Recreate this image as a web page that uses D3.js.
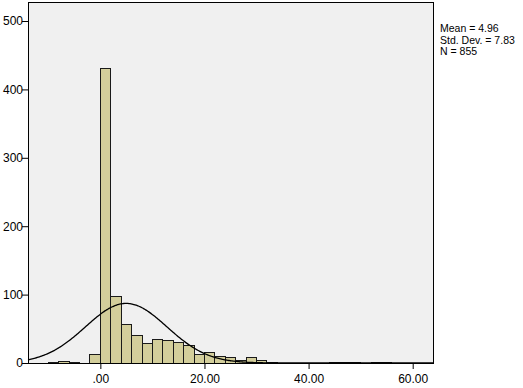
<!DOCTYPE html>
<html><head><meta charset="utf-8">
<script src="https://cdn.jsdelivr.net/npm/d3@7"></script>
<style>html,body{margin:0;padding:0;background:#fff;} svg{display:block;font-family:"Liberation Sans",Arial,sans-serif;}</style>
</head><body>
<svg id="c" width="523" height="388"></svg>
<script>
// Histogram bins (lower edges, width 2) and counts
const binStarts = [-10,-8,-6,-4,-2,0,2,4,6,8,10,12,14,16,18,20,22,24,26,28,30,32,34,36,38,40,42,44,46,48,50,52,54];
const counts    = [1,2,1,0,13,431,97,57,40,29,35,33,30,25,12,16,9,8,4,8,3,1,0,0,0,0,0,1,1,1,0,1,1];
const binWidth = 2;
const xTicks = [0,20,40,60];
const yTicks = [0,100,200,300,400,500];
const statsLabels = ["Mean = 4.96","Std. Dev. = 7.83","N = 855"];
const mean = 4.96, sd = 7.83, N = 855;

const svg = d3.select("#c");
const L = 28, R = 433, T = 2, B = 363;
const x = d3.scaleLinear().domain([-13.9, 63.9]).range([L, R]);
const y = d3.scaleLinear().domain([0, 527.8]).range([B, T]);

svg.append("rect").attr("x",L).attr("y",T).attr("width",R-L).attr("height",B-T).attr("fill","#f0f0f0");

const bins = binStarts.map((s,i)=>({s, c:counts[i]})).filter(d=>d.c>0);
svg.append("g").selectAll("rect").data(bins).join("rect")
  .attr("x", d=>x(d.s)).attr("width", d=>x(d.s+binWidth)-x(d.s))
  .attr("y", d=>y(d.c)).attr("height", d=>y(0)-y(d.c))
  .attr("fill","#d3ce9b").attr("stroke","#1a1a1a").attr("stroke-width",1)
  .attr("shape-rendering","crispEdges");

// normal curve from the printed statistics
const pts = d3.range(-13.9, 63.95, 0.2).map(v=>[v, N*binWidth/(sd*Math.sqrt(2*Math.PI))*Math.exp(-0.5*((v-mean)/sd)**2)]);
svg.append("path").datum(pts)
  .attr("d", d3.line().x(d=>x(d[0])).y(d=>y(d[1])).curve(d3.curveBasis))
  .attr("fill","none").attr("stroke","#000").attr("stroke-width",1.3);

svg.append("rect").attr("x",L).attr("y",T).attr("width",R-L).attr("height",B-T)
  .attr("fill","none").attr("stroke","#000").attr("stroke-width",1).attr("shape-rendering","crispEdges");

const fmt = v => v===0 ? ".00" : d3.format(".2f")(v);
const xa = svg.append("g").attr("transform",`translate(0,${B})`)
  .call(d3.axisBottom(x).tickValues(xTicks).tickFormat(fmt).tickSize(6).tickSizeOuter(0));
xa.select(".domain").remove();
xa.selectAll("text").attr("font-size",12).attr("fill","#000").attr("font-family","Liberation Sans, Arial, sans-serif").attr("dy","0.9em");
xa.selectAll("line").attr("stroke","#000");

const ya = svg.append("g").attr("transform",`translate(${L},0)`)
  .call(d3.axisLeft(y).tickValues(yTicks).tickSize(6).tickSizeOuter(0));
ya.select(".domain").remove();
ya.selectAll("text").attr("font-size",12).attr("fill","#000").attr("font-family","Liberation Sans, Arial, sans-serif").attr("x",-5);
ya.selectAll("line").attr("stroke","#000");

svg.append("g").selectAll("text").data(statsLabels).join("text")
  .attr("x",440).attr("y",(d,i)=>32+i*11.5)
  .attr("font-size",10.5).attr("fill","#000").text(d=>d);
</script>
</body></html>
